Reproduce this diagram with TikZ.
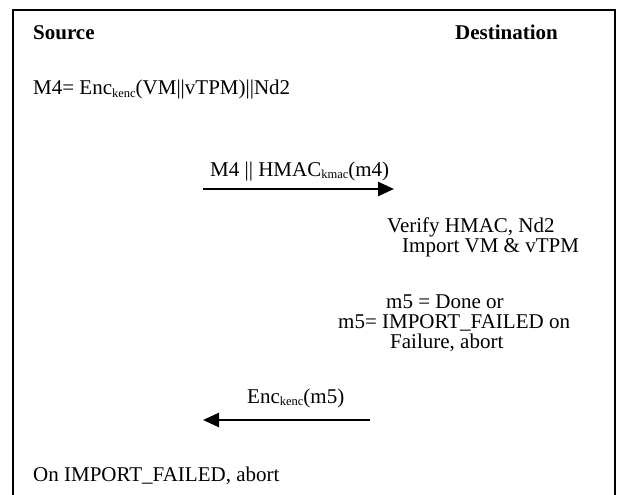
\documentclass[tikz,border=0pt]{standalone}
\usepackage{fontspec}
\setmainfont{Liberation Serif}
\usetikzlibrary{arrows.meta}
\newcommand{\sbs}[1]{\raisebox{-0.3ex}{\fontsize{12.5}{12.5}\selectfont #1}}
\tikzset{
  txt/.style={anchor=base west, inner sep=0pt, font=\fontsize{21}{24}\selectfont},
  hdr/.style={txt, font=\fontsize{21}{24}\selectfont\bfseries},
  msg/.style={line width=2.6pt, -{Triangle[length=16pt,width=14pt]}},
  frame/.style={line width=1.6pt}
}
\begin{document}
\begin{tikzpicture}[x=1pt,y=-1pt]
\useasboundingbox (0,0) rectangle (619,495);
\coordinate (fbl) at (13,496);
\coordinate (ftl) at (13,10);
\coordinate (ftr) at (615,10);
\coordinate (fbr) at (615,496);
\draw[frame] (fbl) -- (ftl) -- (ftr) -- (fbr);

\node[hdr] (src) at (33,40) {Source};
\node[hdr] (dst) at (455,40) {Destination};
\node[txt] (m4) at (33,95) {M4= Enc\sbs{kenc}(VM||vTPM)||Nd2};

\node[txt] (m4msg) at (210,176) {M4 || HMAC\sbs{kmac}(m4)};
\coordinate (a1s) at (203,189);
\coordinate (a1e) at (394,189);
\draw[msg] (a1s) -- (a1e);

\node[txt] (ver) at (387,232) {Verify HMAC, Nd2};
\node[txt] (imp) at (402,252) {Import VM \& vTPM};

\node[txt] (d1) at (386,308) {m5 = Done or};
\node[txt] (d2) at (338,328) {m5= IMPORT\_FAILED on};
\node[txt] (d3) at (390,348) {Failure, abort};

\node[txt] (m5msg) at (247,403) {Enc\sbs{kenc}(m5)};
\coordinate (a2s) at (370,420);
\coordinate (a2e) at (203,420);
\draw[msg] (a2s) -- (a2e);

\node[txt] (fail) at (33,481) {On IMPORT\_FAILED, abort};
\end{tikzpicture}
\end{document}
